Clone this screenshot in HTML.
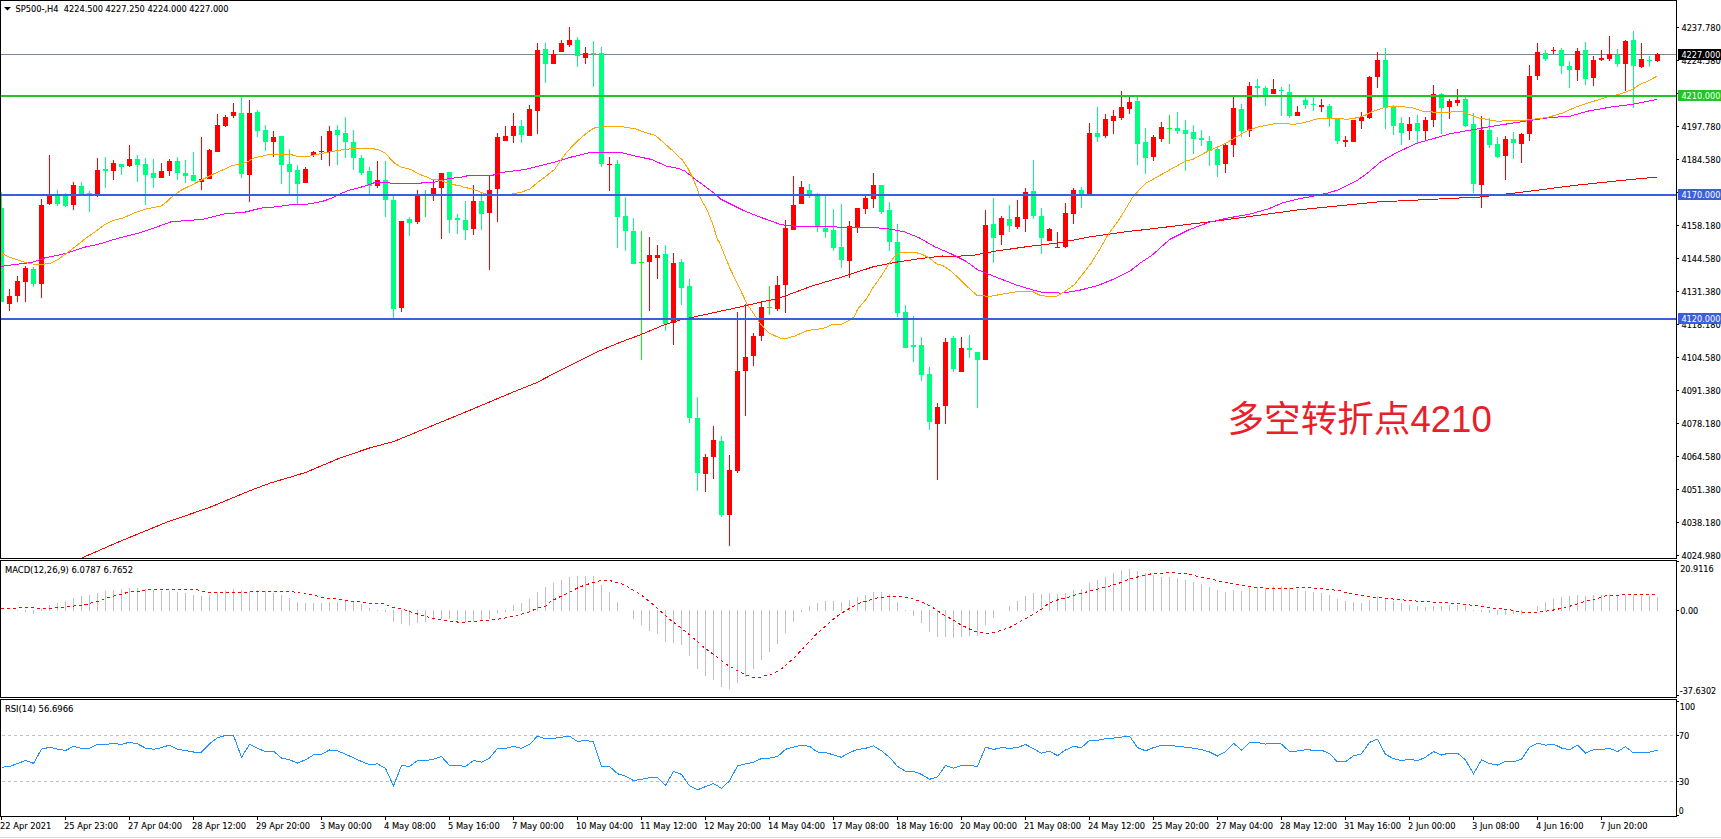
<!DOCTYPE html>
<html><head><meta charset="utf-8"><style>
html,body{margin:0;padding:0;background:#fff;width:1721px;height:839px;overflow:hidden}
svg{display:block}
.ax,.bx{font-family:"DejaVu Sans Condensed","DejaVu Sans",sans-serif;font-size:9.4px;fill:#000}
.ax{stroke:#000;stroke-width:0.1px}
.cn{font-family:"Liberation Sans","Noto Sans CJK SC",sans-serif;font-size:36.6px;fill:#e8202a}
</style></head><body>
<svg width="1721" height="839" viewBox="0 0 1721 839">
<g shape-rendering="crispEdges">
<rect x="1" y="54" width="1675" height="1" fill="#778899"/>
<rect x="1" y="192" width="1" height="110" fill="#00ff7f"/>
<rect x="1" y="208" width="3" height="94" fill="#00ff7f"/>
<rect x="9" y="289" width="1" height="22" fill="#ff0000"/>
<rect x="7" y="296" width="5" height="8" fill="#ff0000"/>
<rect x="17" y="276" width="1" height="26" fill="#ff0000"/>
<rect x="15" y="281" width="5" height="15" fill="#ff0000"/>
<rect x="25" y="266" width="1" height="36" fill="#ff0000"/>
<rect x="23" y="268" width="5" height="14" fill="#ff0000"/>
<rect x="33" y="267" width="1" height="20" fill="#00ff7f"/>
<rect x="31" y="269" width="5" height="15" fill="#00ff7f"/>
<rect x="41" y="199" width="1" height="99" fill="#ff0000"/>
<rect x="39" y="205" width="5" height="79" fill="#ff0000"/>
<rect x="49" y="155" width="1" height="50" fill="#ff0000"/>
<rect x="47" y="196" width="5" height="8" fill="#ff0000"/>
<rect x="57" y="190" width="1" height="16" fill="#00ff7f"/>
<rect x="55" y="194" width="5" height="10" fill="#00ff7f"/>
<rect x="65" y="193" width="1" height="14" fill="#00ff7f"/>
<rect x="63" y="195" width="5" height="11" fill="#00ff7f"/>
<rect x="73" y="182" width="1" height="28" fill="#ff0000"/>
<rect x="71" y="185" width="5" height="20" fill="#ff0000"/>
<rect x="81" y="182" width="1" height="12" fill="#00ff7f"/>
<rect x="79" y="186" width="5" height="8" fill="#00ff7f"/>
<rect x="89" y="191" width="1" height="21" fill="#00ff7f"/>
<rect x="87" y="193" width="5" height="1" fill="#00ff7f"/>
<rect x="97" y="158" width="1" height="39" fill="#ff0000"/>
<rect x="95" y="170" width="5" height="24" fill="#ff0000"/>
<rect x="105" y="157" width="1" height="31" fill="#00ff7f"/>
<rect x="103" y="169" width="5" height="2" fill="#00ff7f"/>
<rect x="113" y="160" width="1" height="20" fill="#ff0000"/>
<rect x="111" y="163" width="5" height="8" fill="#ff0000"/>
<rect x="121" y="164" width="1" height="11" fill="#00ff7f"/>
<rect x="119" y="164" width="5" height="3" fill="#00ff7f"/>
<rect x="129" y="145" width="1" height="22" fill="#ff0000"/>
<rect x="127" y="159" width="5" height="7" fill="#ff0000"/>
<rect x="137" y="155" width="1" height="27" fill="#00ff7f"/>
<rect x="135" y="159" width="5" height="6" fill="#00ff7f"/>
<rect x="145" y="158" width="1" height="47" fill="#00ff7f"/>
<rect x="143" y="164" width="5" height="11" fill="#00ff7f"/>
<rect x="153" y="159" width="1" height="29" fill="#00ff7f"/>
<rect x="151" y="173" width="5" height="5" fill="#00ff7f"/>
<rect x="161" y="163" width="1" height="15" fill="#ff0000"/>
<rect x="159" y="171" width="5" height="7" fill="#ff0000"/>
<rect x="169" y="159" width="1" height="17" fill="#ff0000"/>
<rect x="167" y="161" width="5" height="10" fill="#ff0000"/>
<rect x="177" y="157" width="1" height="23" fill="#00ff7f"/>
<rect x="175" y="161" width="5" height="12" fill="#00ff7f"/>
<rect x="185" y="160" width="1" height="23" fill="#00ff7f"/>
<rect x="183" y="173" width="5" height="3" fill="#00ff7f"/>
<rect x="193" y="152" width="1" height="29" fill="#00ff7f"/>
<rect x="191" y="175" width="5" height="6" fill="#00ff7f"/>
<rect x="201" y="137" width="1" height="53" fill="#ff0000"/>
<rect x="199" y="179" width="5" height="3" fill="#ff0000"/>
<rect x="209" y="149" width="1" height="30" fill="#ff0000"/>
<rect x="207" y="150" width="5" height="29" fill="#ff0000"/>
<rect x="217" y="114" width="1" height="38" fill="#ff0000"/>
<rect x="215" y="125" width="5" height="27" fill="#ff0000"/>
<rect x="225" y="115" width="1" height="12" fill="#ff0000"/>
<rect x="223" y="117" width="5" height="9" fill="#ff0000"/>
<rect x="233" y="103" width="1" height="15" fill="#ff0000"/>
<rect x="231" y="112" width="5" height="4" fill="#ff0000"/>
<rect x="241" y="96" width="1" height="82" fill="#00ff7f"/>
<rect x="239" y="113" width="5" height="61" fill="#00ff7f"/>
<rect x="249" y="100" width="1" height="102" fill="#ff0000"/>
<rect x="247" y="113" width="5" height="62" fill="#ff0000"/>
<rect x="257" y="110" width="1" height="27" fill="#00ff7f"/>
<rect x="255" y="112" width="5" height="19" fill="#00ff7f"/>
<rect x="265" y="125" width="1" height="26" fill="#00ff7f"/>
<rect x="263" y="130" width="5" height="12" fill="#00ff7f"/>
<rect x="273" y="131" width="1" height="26" fill="#ff0000"/>
<rect x="271" y="137" width="5" height="5" fill="#ff0000"/>
<rect x="281" y="136" width="1" height="48" fill="#00ff7f"/>
<rect x="279" y="136" width="5" height="29" fill="#00ff7f"/>
<rect x="289" y="149" width="1" height="45" fill="#00ff7f"/>
<rect x="287" y="164" width="5" height="8" fill="#00ff7f"/>
<rect x="297" y="165" width="1" height="39" fill="#00ff7f"/>
<rect x="295" y="170" width="5" height="14" fill="#00ff7f"/>
<rect x="305" y="167" width="1" height="16" fill="#ff0000"/>
<rect x="303" y="169" width="5" height="14" fill="#ff0000"/>
<rect x="313" y="151" width="1" height="6" fill="#ff0000"/>
<rect x="311" y="152" width="5" height="3" fill="#ff0000"/>
<rect x="321" y="136" width="1" height="24" fill="#ff0000"/>
<rect x="319" y="151" width="5" height="1" fill="#ff0000"/>
<rect x="329" y="126" width="1" height="40" fill="#ff0000"/>
<rect x="327" y="131" width="5" height="21" fill="#ff0000"/>
<rect x="337" y="125" width="1" height="40" fill="#00ff7f"/>
<rect x="335" y="130" width="5" height="5" fill="#00ff7f"/>
<rect x="345" y="117" width="1" height="41" fill="#00ff7f"/>
<rect x="343" y="133" width="5" height="9" fill="#00ff7f"/>
<rect x="353" y="130" width="1" height="40" fill="#00ff7f"/>
<rect x="351" y="142" width="5" height="16" fill="#00ff7f"/>
<rect x="361" y="155" width="1" height="20" fill="#00ff7f"/>
<rect x="359" y="158" width="5" height="15" fill="#00ff7f"/>
<rect x="369" y="167" width="1" height="27" fill="#00ff7f"/>
<rect x="367" y="171" width="5" height="15" fill="#00ff7f"/>
<rect x="377" y="161" width="1" height="27" fill="#ff0000"/>
<rect x="375" y="180" width="5" height="6" fill="#ff0000"/>
<rect x="385" y="161" width="1" height="56" fill="#00ff7f"/>
<rect x="383" y="180" width="5" height="20" fill="#00ff7f"/>
<rect x="393" y="196" width="1" height="122" fill="#00ff7f"/>
<rect x="391" y="200" width="5" height="109" fill="#00ff7f"/>
<rect x="401" y="221" width="1" height="91" fill="#ff0000"/>
<rect x="399" y="221" width="5" height="87" fill="#ff0000"/>
<rect x="409" y="217" width="1" height="19" fill="#00ff7f"/>
<rect x="407" y="219" width="5" height="4" fill="#00ff7f"/>
<rect x="417" y="190" width="1" height="34" fill="#ff0000"/>
<rect x="415" y="196" width="5" height="26" fill="#ff0000"/>
<rect x="425" y="190" width="1" height="27" fill="#00ff00"/>
<rect x="423" y="194" width="5" height="1" fill="#00ff00"/>
<rect x="433" y="180" width="1" height="21" fill="#ff0000"/>
<rect x="431" y="188" width="5" height="6" fill="#ff0000"/>
<rect x="441" y="173" width="1" height="66" fill="#ff0000"/>
<rect x="439" y="173" width="5" height="15" fill="#ff0000"/>
<rect x="449" y="172" width="1" height="61" fill="#00ff7f"/>
<rect x="447" y="172" width="5" height="48" fill="#00ff7f"/>
<rect x="457" y="214" width="1" height="20" fill="#00ff7f"/>
<rect x="455" y="218" width="5" height="2" fill="#00ff7f"/>
<rect x="465" y="201" width="1" height="39" fill="#00ff7f"/>
<rect x="463" y="220" width="5" height="10" fill="#00ff7f"/>
<rect x="473" y="185" width="1" height="50" fill="#ff0000"/>
<rect x="471" y="201" width="5" height="28" fill="#ff0000"/>
<rect x="481" y="192" width="1" height="38" fill="#00ff7f"/>
<rect x="479" y="201" width="5" height="13" fill="#00ff7f"/>
<rect x="489" y="175" width="1" height="95" fill="#ff0000"/>
<rect x="487" y="190" width="5" height="23" fill="#ff0000"/>
<rect x="497" y="133" width="1" height="89" fill="#ff0000"/>
<rect x="495" y="137" width="5" height="52" fill="#ff0000"/>
<rect x="505" y="126" width="1" height="15" fill="#ff0000"/>
<rect x="503" y="136" width="5" height="5" fill="#ff0000"/>
<rect x="513" y="113" width="1" height="30" fill="#ff0000"/>
<rect x="511" y="126" width="5" height="10" fill="#ff0000"/>
<rect x="521" y="120" width="1" height="23" fill="#00ff7f"/>
<rect x="519" y="126" width="5" height="9" fill="#00ff7f"/>
<rect x="529" y="105" width="1" height="31" fill="#ff0000"/>
<rect x="527" y="109" width="5" height="27" fill="#ff0000"/>
<rect x="537" y="43" width="1" height="91" fill="#ff0000"/>
<rect x="535" y="50" width="5" height="61" fill="#ff0000"/>
<rect x="545" y="43" width="1" height="40" fill="#00ff7f"/>
<rect x="543" y="49" width="5" height="15" fill="#00ff7f"/>
<rect x="553" y="50" width="1" height="14" fill="#ff0000"/>
<rect x="551" y="54" width="5" height="10" fill="#ff0000"/>
<rect x="561" y="40" width="1" height="12" fill="#ff0000"/>
<rect x="559" y="43" width="5" height="9" fill="#ff0000"/>
<rect x="569" y="27" width="1" height="20" fill="#ff0000"/>
<rect x="567" y="40" width="5" height="5" fill="#ff0000"/>
<rect x="577" y="37" width="1" height="30" fill="#00ff7f"/>
<rect x="575" y="40" width="5" height="16" fill="#00ff7f"/>
<rect x="585" y="47" width="1" height="17" fill="#ff0000"/>
<rect x="583" y="53" width="5" height="5" fill="#ff0000"/>
<rect x="593" y="41" width="1" height="46" fill="#00ff7f"/>
<rect x="591" y="53" width="5" height="1" fill="#00ff7f"/>
<rect x="601" y="47" width="1" height="120" fill="#00ff7f"/>
<rect x="599" y="53" width="5" height="111" fill="#00ff7f"/>
<rect x="609" y="157" width="1" height="34" fill="#ff0000"/>
<rect x="607" y="164" width="5" height="1" fill="#ff0000"/>
<rect x="617" y="160" width="1" height="88" fill="#00ff7f"/>
<rect x="615" y="164" width="5" height="53" fill="#00ff7f"/>
<rect x="625" y="197" width="1" height="54" fill="#00ff7f"/>
<rect x="623" y="216" width="5" height="15" fill="#00ff7f"/>
<rect x="633" y="218" width="1" height="46" fill="#00ff7f"/>
<rect x="631" y="231" width="5" height="33" fill="#00ff7f"/>
<rect x="641" y="231" width="1" height="129" fill="#00ff00"/>
<rect x="639" y="262" width="5" height="1" fill="#00ff00"/>
<rect x="649" y="237" width="1" height="74" fill="#ff0000"/>
<rect x="647" y="255" width="5" height="7" fill="#ff0000"/>
<rect x="657" y="245" width="1" height="34" fill="#ff0000"/>
<rect x="655" y="255" width="5" height="3" fill="#ff0000"/>
<rect x="665" y="245" width="1" height="86" fill="#00ff7f"/>
<rect x="663" y="254" width="5" height="70" fill="#00ff7f"/>
<rect x="673" y="253" width="1" height="92" fill="#ff0000"/>
<rect x="671" y="263" width="5" height="60" fill="#ff0000"/>
<rect x="681" y="259" width="1" height="46" fill="#00ff7f"/>
<rect x="679" y="262" width="5" height="26" fill="#00ff7f"/>
<rect x="689" y="279" width="1" height="144" fill="#00ff7f"/>
<rect x="687" y="286" width="5" height="132" fill="#00ff7f"/>
<rect x="697" y="397" width="1" height="94" fill="#00ff7f"/>
<rect x="695" y="418" width="5" height="55" fill="#00ff7f"/>
<rect x="705" y="454" width="1" height="38" fill="#ff0000"/>
<rect x="703" y="457" width="5" height="17" fill="#ff0000"/>
<rect x="713" y="426" width="1" height="53" fill="#ff0000"/>
<rect x="711" y="440" width="5" height="17" fill="#ff0000"/>
<rect x="721" y="436" width="1" height="81" fill="#00ff7f"/>
<rect x="719" y="441" width="5" height="74" fill="#00ff7f"/>
<rect x="729" y="455" width="1" height="91" fill="#ff0000"/>
<rect x="727" y="470" width="5" height="45" fill="#ff0000"/>
<rect x="737" y="312" width="1" height="161" fill="#ff0000"/>
<rect x="735" y="371" width="5" height="100" fill="#ff0000"/>
<rect x="745" y="304" width="1" height="112" fill="#ff0000"/>
<rect x="743" y="357" width="5" height="14" fill="#ff0000"/>
<rect x="753" y="333" width="1" height="33" fill="#ff0000"/>
<rect x="751" y="336" width="5" height="20" fill="#ff0000"/>
<rect x="761" y="301" width="1" height="40" fill="#ff0000"/>
<rect x="759" y="307" width="5" height="29" fill="#ff0000"/>
<rect x="769" y="286" width="1" height="29" fill="#00ff00"/>
<rect x="767" y="307" width="5" height="1" fill="#00ff00"/>
<rect x="777" y="276" width="1" height="35" fill="#ff0000"/>
<rect x="775" y="285" width="5" height="24" fill="#ff0000"/>
<rect x="785" y="220" width="1" height="93" fill="#ff0000"/>
<rect x="783" y="228" width="5" height="57" fill="#ff0000"/>
<rect x="793" y="176" width="1" height="54" fill="#ff0000"/>
<rect x="791" y="205" width="5" height="25" fill="#ff0000"/>
<rect x="801" y="181" width="1" height="23" fill="#ff0000"/>
<rect x="799" y="187" width="5" height="17" fill="#ff0000"/>
<rect x="809" y="184" width="1" height="14" fill="#00ff7f"/>
<rect x="807" y="190" width="5" height="4" fill="#00ff7f"/>
<rect x="817" y="193" width="1" height="39" fill="#00ff7f"/>
<rect x="815" y="196" width="5" height="31" fill="#00ff7f"/>
<rect x="825" y="196" width="1" height="42" fill="#00ff7f"/>
<rect x="823" y="228" width="5" height="4" fill="#00ff7f"/>
<rect x="833" y="209" width="1" height="42" fill="#00ff7f"/>
<rect x="831" y="230" width="5" height="18" fill="#00ff7f"/>
<rect x="841" y="204" width="1" height="64" fill="#00ff7f"/>
<rect x="839" y="247" width="5" height="13" fill="#00ff7f"/>
<rect x="849" y="221" width="1" height="57" fill="#ff0000"/>
<rect x="847" y="226" width="5" height="35" fill="#ff0000"/>
<rect x="857" y="208" width="1" height="25" fill="#ff0000"/>
<rect x="855" y="208" width="5" height="20" fill="#ff0000"/>
<rect x="865" y="196" width="1" height="18" fill="#ff0000"/>
<rect x="863" y="198" width="5" height="11" fill="#ff0000"/>
<rect x="873" y="173" width="1" height="35" fill="#ff0000"/>
<rect x="871" y="185" width="5" height="14" fill="#ff0000"/>
<rect x="881" y="185" width="1" height="29" fill="#00ff7f"/>
<rect x="879" y="185" width="5" height="27" fill="#00ff7f"/>
<rect x="889" y="202" width="1" height="49" fill="#00ff7f"/>
<rect x="887" y="210" width="5" height="32" fill="#00ff7f"/>
<rect x="897" y="224" width="1" height="93" fill="#00ff7f"/>
<rect x="895" y="242" width="5" height="71" fill="#00ff7f"/>
<rect x="905" y="305" width="1" height="43" fill="#00ff7f"/>
<rect x="903" y="312" width="5" height="36" fill="#00ff7f"/>
<rect x="913" y="316" width="1" height="46" fill="#00ff7f"/>
<rect x="911" y="345" width="5" height="2" fill="#00ff7f"/>
<rect x="921" y="337" width="1" height="44" fill="#00ff7f"/>
<rect x="919" y="345" width="5" height="30" fill="#00ff7f"/>
<rect x="929" y="367" width="1" height="63" fill="#00ff7f"/>
<rect x="927" y="374" width="5" height="48" fill="#00ff7f"/>
<rect x="937" y="403" width="1" height="77" fill="#ff0000"/>
<rect x="935" y="407" width="5" height="17" fill="#ff0000"/>
<rect x="945" y="338" width="1" height="86" fill="#ff0000"/>
<rect x="943" y="342" width="5" height="64" fill="#ff0000"/>
<rect x="953" y="336" width="1" height="36" fill="#00ff7f"/>
<rect x="951" y="338" width="5" height="31" fill="#00ff7f"/>
<rect x="961" y="337" width="1" height="35" fill="#ff0000"/>
<rect x="959" y="348" width="5" height="24" fill="#ff0000"/>
<rect x="969" y="335" width="1" height="23" fill="#00ff7f"/>
<rect x="967" y="348" width="5" height="2" fill="#00ff7f"/>
<rect x="977" y="352" width="1" height="56" fill="#00ff7f"/>
<rect x="975" y="352" width="5" height="8" fill="#00ff7f"/>
<rect x="985" y="210" width="1" height="150" fill="#ff0000"/>
<rect x="983" y="225" width="5" height="135" fill="#ff0000"/>
<rect x="993" y="198" width="1" height="65" fill="#00ff7f"/>
<rect x="991" y="224" width="5" height="14" fill="#00ff7f"/>
<rect x="1001" y="216" width="1" height="29" fill="#ff0000"/>
<rect x="999" y="218" width="5" height="17" fill="#ff0000"/>
<rect x="1009" y="205" width="1" height="27" fill="#00ff7f"/>
<rect x="1007" y="219" width="5" height="7" fill="#00ff7f"/>
<rect x="1017" y="200" width="1" height="29" fill="#ff0000"/>
<rect x="1015" y="217" width="5" height="10" fill="#ff0000"/>
<rect x="1025" y="188" width="1" height="44" fill="#ff0000"/>
<rect x="1023" y="192" width="5" height="27" fill="#ff0000"/>
<rect x="1033" y="160" width="1" height="59" fill="#00ff7f"/>
<rect x="1031" y="191" width="5" height="25" fill="#00ff7f"/>
<rect x="1041" y="208" width="1" height="46" fill="#00ff7f"/>
<rect x="1039" y="216" width="5" height="22" fill="#00ff7f"/>
<rect x="1049" y="228" width="1" height="13" fill="#ff0000"/>
<rect x="1047" y="229" width="5" height="12" fill="#ff0000"/>
<rect x="1057" y="232" width="1" height="16" fill="#ff0000"/>
<rect x="1055" y="247" width="5" height="1" fill="#ff0000"/>
<rect x="1065" y="203" width="1" height="45" fill="#ff0000"/>
<rect x="1063" y="213" width="5" height="34" fill="#ff0000"/>
<rect x="1073" y="188" width="1" height="36" fill="#ff0000"/>
<rect x="1071" y="190" width="5" height="24" fill="#ff0000"/>
<rect x="1081" y="187" width="1" height="21" fill="#00ff7f"/>
<rect x="1079" y="190" width="5" height="4" fill="#00ff7f"/>
<rect x="1089" y="123" width="1" height="71" fill="#ff0000"/>
<rect x="1087" y="133" width="5" height="61" fill="#ff0000"/>
<rect x="1097" y="107" width="1" height="35" fill="#00ff7f"/>
<rect x="1095" y="133" width="5" height="4" fill="#00ff7f"/>
<rect x="1105" y="114" width="1" height="24" fill="#ff0000"/>
<rect x="1103" y="119" width="5" height="17" fill="#ff0000"/>
<rect x="1113" y="110" width="1" height="24" fill="#ff0000"/>
<rect x="1111" y="116" width="5" height="5" fill="#ff0000"/>
<rect x="1121" y="91" width="1" height="29" fill="#ff0000"/>
<rect x="1119" y="107" width="5" height="11" fill="#ff0000"/>
<rect x="1129" y="97" width="1" height="17" fill="#ff0000"/>
<rect x="1127" y="102" width="5" height="7" fill="#ff0000"/>
<rect x="1137" y="97" width="1" height="68" fill="#00ff7f"/>
<rect x="1135" y="101" width="5" height="43" fill="#00ff7f"/>
<rect x="1145" y="128" width="1" height="46" fill="#00ff7f"/>
<rect x="1143" y="142" width="5" height="16" fill="#00ff7f"/>
<rect x="1153" y="135" width="1" height="26" fill="#ff0000"/>
<rect x="1151" y="137" width="5" height="20" fill="#ff0000"/>
<rect x="1161" y="122" width="1" height="20" fill="#ff0000"/>
<rect x="1159" y="127" width="5" height="12" fill="#ff0000"/>
<rect x="1169" y="115" width="1" height="29" fill="#00ff00"/>
<rect x="1167" y="128" width="5" height="1" fill="#00ff00"/>
<rect x="1177" y="112" width="1" height="22" fill="#00ff7f"/>
<rect x="1175" y="128" width="5" height="3" fill="#00ff7f"/>
<rect x="1185" y="120" width="1" height="51" fill="#00ff7f"/>
<rect x="1183" y="130" width="5" height="4" fill="#00ff7f"/>
<rect x="1193" y="125" width="1" height="29" fill="#00ff7f"/>
<rect x="1191" y="132" width="5" height="7" fill="#00ff7f"/>
<rect x="1201" y="130" width="1" height="16" fill="#00ff7f"/>
<rect x="1199" y="138" width="5" height="2" fill="#00ff7f"/>
<rect x="1209" y="136" width="1" height="30" fill="#00ff7f"/>
<rect x="1207" y="141" width="5" height="10" fill="#00ff7f"/>
<rect x="1217" y="147" width="1" height="30" fill="#00ff7f"/>
<rect x="1215" y="149" width="5" height="16" fill="#00ff7f"/>
<rect x="1225" y="144" width="1" height="29" fill="#ff0000"/>
<rect x="1223" y="145" width="5" height="19" fill="#ff0000"/>
<rect x="1233" y="97" width="1" height="60" fill="#ff0000"/>
<rect x="1231" y="108" width="5" height="37" fill="#ff0000"/>
<rect x="1241" y="104" width="1" height="33" fill="#00ff7f"/>
<rect x="1239" y="109" width="5" height="22" fill="#00ff7f"/>
<rect x="1249" y="82" width="1" height="55" fill="#ff0000"/>
<rect x="1247" y="86" width="5" height="45" fill="#ff0000"/>
<rect x="1257" y="79" width="1" height="19" fill="#00ff7f"/>
<rect x="1255" y="86" width="5" height="2" fill="#00ff7f"/>
<rect x="1265" y="86" width="1" height="20" fill="#00ff7f"/>
<rect x="1263" y="88" width="5" height="7" fill="#00ff7f"/>
<rect x="1273" y="79" width="1" height="15" fill="#ff0000"/>
<rect x="1271" y="89" width="5" height="5" fill="#ff0000"/>
<rect x="1281" y="87" width="1" height="29" fill="#00ff7f"/>
<rect x="1279" y="90" width="5" height="1" fill="#00ff7f"/>
<rect x="1289" y="84" width="1" height="34" fill="#00ff7f"/>
<rect x="1287" y="92" width="5" height="24" fill="#00ff7f"/>
<rect x="1297" y="106" width="1" height="10" fill="#ff0000"/>
<rect x="1295" y="112" width="5" height="4" fill="#ff0000"/>
<rect x="1305" y="97" width="1" height="12" fill="#00ff7f"/>
<rect x="1303" y="100" width="5" height="5" fill="#00ff7f"/>
<rect x="1313" y="97" width="1" height="14" fill="#00ff7f"/>
<rect x="1311" y="104" width="5" height="1" fill="#00ff7f"/>
<rect x="1321" y="99" width="1" height="13" fill="#ff0000"/>
<rect x="1319" y="105" width="5" height="2" fill="#ff0000"/>
<rect x="1329" y="104" width="1" height="23" fill="#00ff7f"/>
<rect x="1327" y="106" width="5" height="12" fill="#00ff7f"/>
<rect x="1337" y="118" width="1" height="26" fill="#00ff7f"/>
<rect x="1335" y="119" width="5" height="22" fill="#00ff7f"/>
<rect x="1345" y="136" width="1" height="11" fill="#ff0000"/>
<rect x="1343" y="140" width="5" height="2" fill="#ff0000"/>
<rect x="1353" y="120" width="1" height="22" fill="#ff0000"/>
<rect x="1351" y="120" width="5" height="22" fill="#ff0000"/>
<rect x="1361" y="112" width="1" height="17" fill="#ff0000"/>
<rect x="1359" y="117" width="5" height="4" fill="#ff0000"/>
<rect x="1369" y="76" width="1" height="43" fill="#ff0000"/>
<rect x="1367" y="77" width="5" height="41" fill="#ff0000"/>
<rect x="1377" y="52" width="1" height="36" fill="#ff0000"/>
<rect x="1375" y="60" width="5" height="17" fill="#ff0000"/>
<rect x="1385" y="48" width="1" height="81" fill="#00ff7f"/>
<rect x="1383" y="60" width="5" height="48" fill="#00ff7f"/>
<rect x="1393" y="105" width="1" height="30" fill="#00ff7f"/>
<rect x="1391" y="106" width="5" height="20" fill="#00ff7f"/>
<rect x="1401" y="117" width="1" height="28" fill="#00ff7f"/>
<rect x="1399" y="123" width="5" height="10" fill="#00ff7f"/>
<rect x="1409" y="117" width="1" height="23" fill="#ff0000"/>
<rect x="1407" y="124" width="5" height="7" fill="#ff0000"/>
<rect x="1417" y="115" width="1" height="28" fill="#00ff7f"/>
<rect x="1415" y="123" width="5" height="8" fill="#00ff7f"/>
<rect x="1425" y="117" width="1" height="23" fill="#ff0000"/>
<rect x="1423" y="120" width="5" height="11" fill="#ff0000"/>
<rect x="1433" y="85" width="1" height="42" fill="#ff0000"/>
<rect x="1431" y="94" width="5" height="26" fill="#ff0000"/>
<rect x="1441" y="93" width="1" height="41" fill="#00ff7f"/>
<rect x="1439" y="94" width="5" height="14" fill="#00ff7f"/>
<rect x="1449" y="99" width="1" height="20" fill="#ff0000"/>
<rect x="1447" y="101" width="5" height="6" fill="#ff0000"/>
<rect x="1457" y="89" width="1" height="17" fill="#ff0000"/>
<rect x="1455" y="100" width="5" height="3" fill="#ff0000"/>
<rect x="1465" y="97" width="1" height="30" fill="#00ff7f"/>
<rect x="1463" y="99" width="5" height="27" fill="#00ff7f"/>
<rect x="1473" y="113" width="1" height="80" fill="#00ff7f"/>
<rect x="1471" y="124" width="5" height="60" fill="#00ff7f"/>
<rect x="1481" y="116" width="1" height="92" fill="#ff0000"/>
<rect x="1479" y="130" width="5" height="55" fill="#ff0000"/>
<rect x="1489" y="118" width="1" height="30" fill="#00ff7f"/>
<rect x="1487" y="130" width="5" height="15" fill="#00ff7f"/>
<rect x="1497" y="137" width="1" height="21" fill="#00ff7f"/>
<rect x="1495" y="144" width="5" height="13" fill="#00ff7f"/>
<rect x="1505" y="136" width="1" height="44" fill="#ff0000"/>
<rect x="1503" y="139" width="5" height="17" fill="#ff0000"/>
<rect x="1513" y="132" width="1" height="27" fill="#00ff7f"/>
<rect x="1511" y="139" width="5" height="4" fill="#00ff7f"/>
<rect x="1521" y="133" width="1" height="30" fill="#ff0000"/>
<rect x="1519" y="134" width="5" height="10" fill="#ff0000"/>
<rect x="1529" y="65" width="1" height="76" fill="#ff0000"/>
<rect x="1527" y="76" width="5" height="58" fill="#ff0000"/>
<rect x="1537" y="43" width="1" height="37" fill="#ff0000"/>
<rect x="1535" y="52" width="5" height="24" fill="#ff0000"/>
<rect x="1545" y="50" width="1" height="11" fill="#00ff7f"/>
<rect x="1543" y="53" width="5" height="6" fill="#00ff7f"/>
<rect x="1553" y="47" width="1" height="7" fill="#ff0000"/>
<rect x="1551" y="50" width="5" height="1" fill="#ff0000"/>
<rect x="1561" y="48" width="1" height="26" fill="#00ff7f"/>
<rect x="1559" y="50" width="5" height="16" fill="#00ff7f"/>
<rect x="1569" y="61" width="1" height="27" fill="#00ff7f"/>
<rect x="1567" y="66" width="5" height="4" fill="#00ff7f"/>
<rect x="1577" y="48" width="1" height="33" fill="#ff0000"/>
<rect x="1575" y="51" width="5" height="19" fill="#ff0000"/>
<rect x="1585" y="42" width="1" height="43" fill="#00ff7f"/>
<rect x="1583" y="50" width="5" height="29" fill="#00ff7f"/>
<rect x="1593" y="56" width="1" height="30" fill="#ff0000"/>
<rect x="1591" y="60" width="5" height="18" fill="#ff0000"/>
<rect x="1601" y="50" width="1" height="11" fill="#ff0000"/>
<rect x="1599" y="58" width="5" height="2" fill="#ff0000"/>
<rect x="1609" y="36" width="1" height="25" fill="#ff0000"/>
<rect x="1607" y="54" width="5" height="5" fill="#ff0000"/>
<rect x="1617" y="49" width="1" height="18" fill="#00ff7f"/>
<rect x="1615" y="55" width="5" height="9" fill="#00ff7f"/>
<rect x="1625" y="40" width="1" height="51" fill="#ff0000"/>
<rect x="1623" y="41" width="5" height="23" fill="#ff0000"/>
<rect x="1633" y="31" width="1" height="77" fill="#00ff7f"/>
<rect x="1631" y="40" width="5" height="26" fill="#00ff7f"/>
<rect x="1641" y="43" width="1" height="25" fill="#ff0000"/>
<rect x="1639" y="59" width="5" height="8" fill="#ff0000"/>
<rect x="1649" y="56" width="1" height="11" fill="#00ff7f"/>
<rect x="1647" y="60" width="5" height="1" fill="#00ff7f"/>
<rect x="1657" y="53" width="1" height="9" fill="#ff0000"/>
<rect x="1655" y="54" width="5" height="7" fill="#ff0000"/>
<svg x="1" y="1" width="1675" height="557" overflow="hidden"><g transform="translate(-1,-1)">
<polyline points="78.0,559.8 83.1,557.4 121.5,540.7 168.0,521.7 208.7,507.8 249.4,490.9 270.0,483.1 289.8,477.3 306.0,472.3 339.7,458.1 368.8,448.2 394.3,441.3 426.9,427.9 470.0,410.2 512.7,392.2 536.5,382.7 566.3,367.2 596.1,352.3 620.0,342.4 641.4,334.4 665.0,324.5 680.0,320.0 733.5,308.4 780.0,297.9 811.0,286.3 842.0,277.0 872.9,266.9 896.2,262.2 919.4,258.7 942.6,256.0 950.0,256.4 971.7,255.6 996.5,251.0 1027.4,246.6 1058.4,242.9 1089.4,237.0 1130.0,231.2 1140.0,230.2 1219.0,220.7 1298.0,209.9 1377.0,202.0 1480.0,197.0 1517.0,192.8 1575.6,185.3 1627.6,179.8 1657.0,177.1" fill="none" stroke="#ff0000" stroke-width="1"/>
<polyline points="1.0,266.4 10.7,265.1 32.2,262.4 45.1,257.8 64.4,253.8 85.8,246.9 98.7,244.2 118.0,238.3 139.5,232.9 155.5,227.5 171.6,221.6 180.0,221.1 202.2,219.4 223.6,214.0 245.1,212.1 261.2,208.1 277.3,206.7 293.4,204.4 306.2,204.4 322.3,201.4 330.9,198.5 337.3,195.2 340.0,193.9 348.3,190.5 356.7,188.4 367.5,185.3 375.1,182.4 389.2,182.4 390.1,183.4 421.0,183.4 421.8,182.4 434.3,182.4 436.0,181.3 443.5,180.1 445.2,179.2 452.7,178.2 460.0,177.4 469.8,175.3 492.5,175.3 503.2,172.2 525.8,169.4 541.3,165.4 556.8,161.5 571.1,157.1 591.4,152.3 605.0,152.3 620.0,152.1 635.5,156.2 651.0,159.3 666.5,166.1 678.9,168.6 685.1,171.2 692.8,177.4 702.1,184.3 714.5,193.6 720.7,199.1 731.5,204.5 743.9,210.7 759.4,216.9 774.9,222.3 780.0,224.6 795.5,226.2 842.0,227.1 876.0,227.7 891.5,229.3 903.9,231.7 919.4,237.9 934.9,246.8 950.0,253.3 965.5,261.0 977.9,269.9 996.5,277.3 1016.6,285.1 1032.1,289.7 1042.9,292.5 1061.5,293.1 1078.6,290.5 1097.1,285.8 1112.6,279.6 1130.0,271.1 1140.0,263.2 1151.9,255.3 1169.6,239.5 1189.4,229.6 1209.1,222.3 1228.9,217.8 1248.7,214.4 1268.4,208.9 1282.2,203.0 1298.0,199.0 1313.8,196.1 1327.7,193.1 1337.5,190.1 1357.3,180.3 1367.2,173.3 1381.0,161.5 1396.8,152.6 1416.6,143.3 1436.3,137.8 1450.0,133.7 1475.0,129.3 1500.0,125.0 1525.0,121.2 1550.0,117.5 1570.0,116.2 1587.4,111.2 1612.4,106.8 1632.4,104.3 1656.7,99.4" fill="none" stroke="#ff00ff" stroke-width="1"/>
<polyline points="1.0,253.3 10.7,257.6 21.5,261.3 32.2,264.0 42.9,264.2 50.4,263.5 57.9,259.7 66.5,253.3 75.1,246.8 85.8,238.3 96.5,230.8 105.1,224.3 112.6,220.6 123.4,217.9 134.1,213.1 144.8,209.3 160.9,206.1 167.3,201.3 170.0,198.5 180.7,190.4 191.5,185.1 200.0,180.8 212.9,174.3 223.6,169.5 232.2,165.5 240.8,164.1 247.2,162.0 253.7,158.0 261.2,156.3 270.8,154.3 290.2,154.3 296.6,156.3 308.4,156.3 313.7,155.0 325.6,152.7 336.3,150.7 340.0,150.5 341.7,149.4 348.3,149.4 350.0,148.4 373.4,148.4 375.1,149.4 378.4,149.6 384.2,152.5 389.2,157.5 394.3,163.0 400.1,166.7 406.8,168.4 411.0,169.6 419.3,174.2 427.6,177.2 432.7,179.7 437.7,179.7 443.5,181.3 448.5,183.4 456.0,185.1 460.0,185.5 463.8,187.2 473.4,189.3 481.7,192.5 487.7,194.5 509.1,194.5 521.1,192.2 529.4,189.3 538.9,181.5 549.7,173.2 554.4,169.6 559.2,162.4 565.2,154.1 571.1,147.5 579.5,139.2 587.8,132.1 593.8,128.1 604.5,126.7 620.0,126.3 635.5,128.9 643.2,131.7 655.6,135.6 661.8,141.0 669.6,148.0 682.0,159.6 688.2,168.9 692.8,178.2 697.4,189.0 700.5,198.3 706.7,209.1 712.9,224.6 717.6,240.0 718.4,240.0 730.0,268.4 746.8,303.4 760.1,323.4 768.4,332.6 780.0,338.1 787.7,338.1 795.5,335.8 807.9,330.4 820.3,328.8 826.5,327.3 832.7,324.2 842.0,324.2 849.7,320.3 854.4,316.5 857.4,309.5 866.7,298.6 872.9,287.8 880.7,277.0 888.4,264.6 896.2,254.5 902.4,252.2 914.8,252.2 922.5,254.5 928.7,257.6 936.4,263.8 942.6,265.3 950.0,270.3 956.2,275.8 965.5,285.1 977.1,295.4 990.3,296.4 1002.7,294.0 1015.1,292.0 1025.9,291.3 1033.6,292.0 1039.8,295.1 1046.0,296.2 1056.9,296.2 1064.6,291.6 1073.9,285.1 1083.2,273.4 1091.0,263.4 1098.7,251.0 1108.0,234.7 1118.8,220.0 1123.7,212.2 1133.0,196.7 1140.0,189.1 1145.9,183.2 1163.7,173.3 1185.4,161.1 1193.3,159.1 1209.1,150.6 1225.0,143.7 1234.8,137.8 1248.7,129.9 1258.5,126.9 1278.3,123.0 1280.0,123.2 1294.3,124.4 1303.8,122.6 1319.3,118.4 1342.0,118.6 1346.8,119.4 1358.7,117.5 1363.4,116.0 1373.0,111.3 1383.7,107.7 1389.7,106.3 1398.0,106.5 1411.1,107.4 1423.0,111.3 1435.0,112.2 1449.3,112.2 1456.4,111.3 1461.7,111.4 1478.0,117.9 1497.5,121.2 1527.5,120.0 1547.5,117.5 1562.4,113.1 1574.9,107.5 1587.4,103.1 1599.9,99.4 1607.4,96.9 1618.6,94.4 1624.9,92.3 1632.4,89.4 1639.9,84.4 1647.4,81.3 1656.8,76.3" fill="none" stroke="#ffa500" stroke-width="1"/>
</g></svg>
<rect x="1" y="95" width="1675" height="2" fill="#22c522"/>
<rect x="1" y="194" width="1675" height="2" fill="#3a5fdc"/>
<rect x="1" y="318" width="1675" height="2" fill="#3a5fdc"/>
<rect x="17" y="610" width="1" height="1" fill="#c0c0c0"/>
<rect x="25" y="610" width="1" height="2" fill="#c0c0c0"/>
<rect x="33" y="610" width="1" height="4" fill="#c0c0c0"/>
<rect x="41" y="609" width="1" height="2" fill="#c0c0c0"/>
<rect x="49" y="605" width="1" height="6" fill="#c0c0c0"/>
<rect x="57" y="603" width="1" height="8" fill="#c0c0c0"/>
<rect x="65" y="601" width="1" height="10" fill="#c0c0c0"/>
<rect x="73" y="598" width="1" height="13" fill="#c0c0c0"/>
<rect x="81" y="596" width="1" height="15" fill="#c0c0c0"/>
<rect x="89" y="595" width="1" height="16" fill="#c0c0c0"/>
<rect x="97" y="593" width="1" height="18" fill="#c0c0c0"/>
<rect x="105" y="591" width="1" height="20" fill="#c0c0c0"/>
<rect x="113" y="590" width="1" height="21" fill="#c0c0c0"/>
<rect x="121" y="589" width="1" height="22" fill="#c0c0c0"/>
<rect x="129" y="588" width="1" height="23" fill="#c0c0c0"/>
<rect x="137" y="588" width="1" height="23" fill="#c0c0c0"/>
<rect x="145" y="589" width="1" height="22" fill="#c0c0c0"/>
<rect x="153" y="590" width="1" height="21" fill="#c0c0c0"/>
<rect x="161" y="591" width="1" height="20" fill="#c0c0c0"/>
<rect x="169" y="591" width="1" height="20" fill="#c0c0c0"/>
<rect x="177" y="592" width="1" height="19" fill="#c0c0c0"/>
<rect x="185" y="593" width="1" height="18" fill="#c0c0c0"/>
<rect x="193" y="595" width="1" height="16" fill="#c0c0c0"/>
<rect x="201" y="596" width="1" height="15" fill="#c0c0c0"/>
<rect x="209" y="595" width="1" height="16" fill="#c0c0c0"/>
<rect x="217" y="592" width="1" height="19" fill="#c0c0c0"/>
<rect x="225" y="591" width="1" height="20" fill="#c0c0c0"/>
<rect x="233" y="589" width="1" height="22" fill="#c0c0c0"/>
<rect x="241" y="590" width="1" height="21" fill="#c0c0c0"/>
<rect x="249" y="592" width="1" height="19" fill="#c0c0c0"/>
<rect x="257" y="590" width="1" height="21" fill="#c0c0c0"/>
<rect x="265" y="591" width="1" height="20" fill="#c0c0c0"/>
<rect x="273" y="593" width="1" height="18" fill="#c0c0c0"/>
<rect x="281" y="595" width="1" height="16" fill="#c0c0c0"/>
<rect x="289" y="598" width="1" height="13" fill="#c0c0c0"/>
<rect x="297" y="602" width="1" height="9" fill="#c0c0c0"/>
<rect x="305" y="603" width="1" height="8" fill="#c0c0c0"/>
<rect x="313" y="603" width="1" height="8" fill="#c0c0c0"/>
<rect x="321" y="603" width="1" height="8" fill="#c0c0c0"/>
<rect x="329" y="602" width="1" height="9" fill="#c0c0c0"/>
<rect x="337" y="602" width="1" height="9" fill="#c0c0c0"/>
<rect x="345" y="601" width="1" height="10" fill="#c0c0c0"/>
<rect x="353" y="602" width="1" height="9" fill="#c0c0c0"/>
<rect x="361" y="604" width="1" height="7" fill="#c0c0c0"/>
<rect x="369" y="608" width="1" height="3" fill="#c0c0c0"/>
<rect x="377" y="610" width="1" height="1" fill="#c0c0c0"/>
<rect x="385" y="610" width="1" height="2" fill="#c0c0c0"/>
<rect x="393" y="610" width="1" height="12" fill="#c0c0c0"/>
<rect x="401" y="610" width="1" height="14" fill="#c0c0c0"/>
<rect x="409" y="610" width="1" height="15" fill="#c0c0c0"/>
<rect x="417" y="610" width="1" height="13" fill="#c0c0c0"/>
<rect x="425" y="610" width="1" height="12" fill="#c0c0c0"/>
<rect x="433" y="610" width="1" height="10" fill="#c0c0c0"/>
<rect x="441" y="610" width="1" height="9" fill="#c0c0c0"/>
<rect x="449" y="610" width="1" height="9" fill="#c0c0c0"/>
<rect x="457" y="610" width="1" height="10" fill="#c0c0c0"/>
<rect x="465" y="610" width="1" height="12" fill="#c0c0c0"/>
<rect x="473" y="610" width="1" height="11" fill="#c0c0c0"/>
<rect x="481" y="610" width="1" height="10" fill="#c0c0c0"/>
<rect x="489" y="610" width="1" height="9" fill="#c0c0c0"/>
<rect x="497" y="610" width="1" height="3" fill="#c0c0c0"/>
<rect x="505" y="610" width="1" height="2" fill="#c0c0c0"/>
<rect x="513" y="605" width="1" height="6" fill="#c0c0c0"/>
<rect x="521" y="603" width="1" height="8" fill="#c0c0c0"/>
<rect x="529" y="599" width="1" height="12" fill="#c0c0c0"/>
<rect x="537" y="592" width="1" height="19" fill="#c0c0c0"/>
<rect x="545" y="587" width="1" height="24" fill="#c0c0c0"/>
<rect x="553" y="583" width="1" height="28" fill="#c0c0c0"/>
<rect x="561" y="580" width="1" height="31" fill="#c0c0c0"/>
<rect x="569" y="577" width="1" height="34" fill="#c0c0c0"/>
<rect x="577" y="576" width="1" height="35" fill="#c0c0c0"/>
<rect x="585" y="576" width="1" height="35" fill="#c0c0c0"/>
<rect x="593" y="576" width="1" height="35" fill="#c0c0c0"/>
<rect x="601" y="585" width="1" height="26" fill="#c0c0c0"/>
<rect x="609" y="592" width="1" height="19" fill="#c0c0c0"/>
<rect x="617" y="602" width="1" height="9" fill="#c0c0c0"/>
<rect x="633" y="610" width="1" height="9" fill="#c0c0c0"/>
<rect x="641" y="610" width="1" height="15" fill="#c0c0c0"/>
<rect x="649" y="610" width="1" height="21" fill="#c0c0c0"/>
<rect x="657" y="610" width="1" height="24" fill="#c0c0c0"/>
<rect x="665" y="610" width="1" height="32" fill="#c0c0c0"/>
<rect x="673" y="610" width="1" height="33" fill="#c0c0c0"/>
<rect x="681" y="610" width="1" height="35" fill="#c0c0c0"/>
<rect x="689" y="610" width="1" height="46" fill="#c0c0c0"/>
<rect x="697" y="610" width="1" height="59" fill="#c0c0c0"/>
<rect x="705" y="610" width="1" height="66" fill="#c0c0c0"/>
<rect x="713" y="610" width="1" height="70" fill="#c0c0c0"/>
<rect x="721" y="610" width="1" height="77" fill="#c0c0c0"/>
<rect x="729" y="610" width="1" height="79" fill="#c0c0c0"/>
<rect x="737" y="610" width="1" height="73" fill="#c0c0c0"/>
<rect x="745" y="610" width="1" height="67" fill="#c0c0c0"/>
<rect x="753" y="610" width="1" height="59" fill="#c0c0c0"/>
<rect x="761" y="610" width="1" height="50" fill="#c0c0c0"/>
<rect x="769" y="610" width="1" height="42" fill="#c0c0c0"/>
<rect x="777" y="610" width="1" height="34" fill="#c0c0c0"/>
<rect x="785" y="610" width="1" height="23" fill="#c0c0c0"/>
<rect x="793" y="610" width="1" height="12" fill="#c0c0c0"/>
<rect x="801" y="610" width="1" height="2" fill="#c0c0c0"/>
<rect x="809" y="606" width="1" height="5" fill="#c0c0c0"/>
<rect x="817" y="603" width="1" height="8" fill="#c0c0c0"/>
<rect x="825" y="601" width="1" height="10" fill="#c0c0c0"/>
<rect x="833" y="601" width="1" height="10" fill="#c0c0c0"/>
<rect x="841" y="602" width="1" height="9" fill="#c0c0c0"/>
<rect x="849" y="600" width="1" height="11" fill="#c0c0c0"/>
<rect x="857" y="597" width="1" height="14" fill="#c0c0c0"/>
<rect x="865" y="595" width="1" height="16" fill="#c0c0c0"/>
<rect x="873" y="592" width="1" height="19" fill="#c0c0c0"/>
<rect x="881" y="592" width="1" height="19" fill="#c0c0c0"/>
<rect x="889" y="594" width="1" height="17" fill="#c0c0c0"/>
<rect x="897" y="602" width="1" height="9" fill="#c0c0c0"/>
<rect x="905" y="610" width="1" height="1" fill="#c0c0c0"/>
<rect x="913" y="610" width="1" height="6" fill="#c0c0c0"/>
<rect x="921" y="610" width="1" height="13" fill="#c0c0c0"/>
<rect x="929" y="610" width="1" height="22" fill="#c0c0c0"/>
<rect x="937" y="610" width="1" height="27" fill="#c0c0c0"/>
<rect x="945" y="610" width="1" height="27" fill="#c0c0c0"/>
<rect x="953" y="610" width="1" height="28" fill="#c0c0c0"/>
<rect x="961" y="610" width="1" height="27" fill="#c0c0c0"/>
<rect x="969" y="610" width="1" height="26" fill="#c0c0c0"/>
<rect x="977" y="610" width="1" height="26" fill="#c0c0c0"/>
<rect x="985" y="610" width="1" height="15" fill="#c0c0c0"/>
<rect x="993" y="610" width="1" height="8" fill="#c0c0c0"/>
<rect x="1009" y="606" width="1" height="5" fill="#c0c0c0"/>
<rect x="1017" y="601" width="1" height="10" fill="#c0c0c0"/>
<rect x="1025" y="596" width="1" height="15" fill="#c0c0c0"/>
<rect x="1033" y="593" width="1" height="18" fill="#c0c0c0"/>
<rect x="1041" y="594" width="1" height="17" fill="#c0c0c0"/>
<rect x="1049" y="593" width="1" height="18" fill="#c0c0c0"/>
<rect x="1057" y="594" width="1" height="17" fill="#c0c0c0"/>
<rect x="1065" y="593" width="1" height="18" fill="#c0c0c0"/>
<rect x="1073" y="590" width="1" height="21" fill="#c0c0c0"/>
<rect x="1081" y="589" width="1" height="22" fill="#c0c0c0"/>
<rect x="1089" y="583" width="1" height="28" fill="#c0c0c0"/>
<rect x="1097" y="580" width="1" height="31" fill="#c0c0c0"/>
<rect x="1105" y="577" width="1" height="34" fill="#c0c0c0"/>
<rect x="1113" y="573" width="1" height="38" fill="#c0c0c0"/>
<rect x="1121" y="570" width="1" height="41" fill="#c0c0c0"/>
<rect x="1129" y="569" width="1" height="42" fill="#c0c0c0"/>
<rect x="1137" y="571" width="1" height="40" fill="#c0c0c0"/>
<rect x="1145" y="573" width="1" height="38" fill="#c0c0c0"/>
<rect x="1153" y="575" width="1" height="36" fill="#c0c0c0"/>
<rect x="1161" y="577" width="1" height="34" fill="#c0c0c0"/>
<rect x="1169" y="577" width="1" height="34" fill="#c0c0c0"/>
<rect x="1177" y="578" width="1" height="33" fill="#c0c0c0"/>
<rect x="1185" y="580" width="1" height="31" fill="#c0c0c0"/>
<rect x="1193" y="582" width="1" height="29" fill="#c0c0c0"/>
<rect x="1201" y="584" width="1" height="27" fill="#c0c0c0"/>
<rect x="1209" y="587" width="1" height="24" fill="#c0c0c0"/>
<rect x="1217" y="590" width="1" height="21" fill="#c0c0c0"/>
<rect x="1225" y="592" width="1" height="19" fill="#c0c0c0"/>
<rect x="1233" y="590" width="1" height="21" fill="#c0c0c0"/>
<rect x="1241" y="591" width="1" height="20" fill="#c0c0c0"/>
<rect x="1249" y="588" width="1" height="23" fill="#c0c0c0"/>
<rect x="1257" y="587" width="1" height="24" fill="#c0c0c0"/>
<rect x="1265" y="588" width="1" height="23" fill="#c0c0c0"/>
<rect x="1273" y="586" width="1" height="25" fill="#c0c0c0"/>
<rect x="1281" y="586" width="1" height="25" fill="#c0c0c0"/>
<rect x="1289" y="588" width="1" height="23" fill="#c0c0c0"/>
<rect x="1297" y="589" width="1" height="22" fill="#c0c0c0"/>
<rect x="1305" y="591" width="1" height="20" fill="#c0c0c0"/>
<rect x="1313" y="592" width="1" height="19" fill="#c0c0c0"/>
<rect x="1321" y="593" width="1" height="18" fill="#c0c0c0"/>
<rect x="1329" y="595" width="1" height="16" fill="#c0c0c0"/>
<rect x="1337" y="599" width="1" height="12" fill="#c0c0c0"/>
<rect x="1345" y="601" width="1" height="10" fill="#c0c0c0"/>
<rect x="1353" y="602" width="1" height="9" fill="#c0c0c0"/>
<rect x="1361" y="603" width="1" height="8" fill="#c0c0c0"/>
<rect x="1369" y="600" width="1" height="11" fill="#c0c0c0"/>
<rect x="1377" y="596" width="1" height="15" fill="#c0c0c0"/>
<rect x="1385" y="598" width="1" height="13" fill="#c0c0c0"/>
<rect x="1393" y="601" width="1" height="10" fill="#c0c0c0"/>
<rect x="1401" y="603" width="1" height="8" fill="#c0c0c0"/>
<rect x="1409" y="605" width="1" height="6" fill="#c0c0c0"/>
<rect x="1417" y="606" width="1" height="5" fill="#c0c0c0"/>
<rect x="1425" y="607" width="1" height="4" fill="#c0c0c0"/>
<rect x="1433" y="606" width="1" height="5" fill="#c0c0c0"/>
<rect x="1441" y="606" width="1" height="5" fill="#c0c0c0"/>
<rect x="1449" y="605" width="1" height="6" fill="#c0c0c0"/>
<rect x="1457" y="605" width="1" height="6" fill="#c0c0c0"/>
<rect x="1465" y="606" width="1" height="5" fill="#c0c0c0"/>
<rect x="1473" y="610" width="1" height="1" fill="#c0c0c0"/>
<rect x="1481" y="610" width="1" height="2" fill="#c0c0c0"/>
<rect x="1489" y="610" width="1" height="3" fill="#c0c0c0"/>
<rect x="1497" y="610" width="1" height="5" fill="#c0c0c0"/>
<rect x="1505" y="610" width="1" height="5" fill="#c0c0c0"/>
<rect x="1513" y="610" width="1" height="4" fill="#c0c0c0"/>
<rect x="1521" y="610" width="1" height="5" fill="#c0c0c0"/>
<rect x="1537" y="606" width="1" height="5" fill="#c0c0c0"/>
<rect x="1545" y="602" width="1" height="9" fill="#c0c0c0"/>
<rect x="1553" y="599" width="1" height="12" fill="#c0c0c0"/>
<rect x="1561" y="597" width="1" height="14" fill="#c0c0c0"/>
<rect x="1569" y="596" width="1" height="15" fill="#c0c0c0"/>
<rect x="1577" y="595" width="1" height="16" fill="#c0c0c0"/>
<rect x="1585" y="596" width="1" height="15" fill="#c0c0c0"/>
<rect x="1593" y="595" width="1" height="16" fill="#c0c0c0"/>
<rect x="1601" y="595" width="1" height="16" fill="#c0c0c0"/>
<rect x="1609" y="594" width="1" height="17" fill="#c0c0c0"/>
<rect x="1617" y="595" width="1" height="16" fill="#c0c0c0"/>
<rect x="1625" y="595" width="1" height="16" fill="#c0c0c0"/>
<rect x="1633" y="595" width="1" height="16" fill="#c0c0c0"/>
<rect x="1641" y="596" width="1" height="15" fill="#c0c0c0"/>
<rect x="1649" y="596" width="1" height="15" fill="#c0c0c0"/>
<rect x="1657" y="597" width="1" height="14" fill="#c0c0c0"/>
<polyline points="1.0,608.4 34.9,607.5 38.3,608.7 46.5,608.5 63.9,607.5 69.7,606.4 81.3,605.4 87.2,604.1 93.0,602.4 98.8,601.3 104.6,598.8 110.4,597.1 116.2,595.3 122.0,594.2 127.8,592.2 139.5,591.3 145.3,589.9 197.6,589.9 200.0,591.5 204.6,591.5 207.0,592.4 248.8,592.4 252.3,591.5 290.6,591.5 296.5,592.4 301.1,593.2 306.9,594.2 313.9,595.3 319.7,596.8 325.5,598.2 333.6,598.5 339.5,599.4 345.3,600.3 349.9,601.1 356.9,601.5 362.7,602.3 368.5,603.1 381.3,603.1 385.9,604.6 391.7,607.0 400.0,608.5 409.8,611.7 424.4,616.1 436.6,619.1 461.0,622.5 480.5,621.0 502.5,618.6 512.0,616.4 517.6,615.2 523.9,613.5 530.2,611.6 536.5,608.5 542.8,606.4 546.0,606.2 549.1,602.7 554.3,599.6 560.6,596.4 566.9,593.6 577.0,588.2 584.8,585.1 591.0,583.3 600.3,580.5 609.6,580.5 620.4,583.3 626.6,585.9 632.8,589.8 643.7,596.8 656.0,606.8 668.4,618.4 680.8,627.7 691.7,636.6 702.5,646.3 714.9,655.6 727.3,664.9 738.2,671.1 745.9,675.0 752.1,677.3 760.0,677.3 763.1,676.2 770.8,674.7 777.0,671.6 783.2,667.6 794.1,658.0 804.9,646.3 815.8,634.7 822.0,629.3 828.2,623.6 834.4,618.4 840.6,613.8 846.8,609.9 853.0,606.5 859.1,603.4 865.3,601.4 871.5,599.4 877.7,597.8 883.9,597.1 899.4,596.4 908.7,597.5 914.9,599.9 921.1,601.4 930.4,606.1 936.6,609.9 942.8,614.3 949.0,617.7 955.2,621.1 960.0,624.3 966.2,627.4 972.4,630.5 978.6,632.5 984.8,633.1 991.0,633.1 997.2,631.6 1003.4,629.7 1009.6,627.4 1015.8,624.3 1022.0,620.4 1028.2,617.3 1034.4,613.9 1040.6,609.9 1046.8,604.9 1053.0,601.5 1059.1,599.5 1065.3,598.0 1071.5,596.4 1077.7,593.8 1083.9,593.0 1090.1,590.7 1096.3,589.4 1102.5,587.6 1108.7,586.3 1114.9,584.5 1121.1,582.5 1127.3,579.8 1133.5,578.3 1139.7,576.3 1145.9,575.2 1152.1,573.6 1160.0,573.9 1166.2,572.4 1172.4,572.7 1186.3,573.5 1194.1,575.5 1203.4,577.8 1212.7,579.4 1222.0,581.7 1231.3,583.5 1240.6,585.1 1249.9,586.3 1256.0,587.6 1268.4,588.3 1291.7,588.3 1299.4,587.4 1311.8,587.9 1322.7,588.7 1327.3,589.4 1339.7,590.5 1345.9,592.5 1360.0,595.3 1366.2,596.4 1374.0,597.2 1386.3,598.4 1398.7,599.5 1411.1,600.6 1422.0,601.5 1445.2,602.6 1468.4,604.5 1471.5,605.4 1483.9,606.5 1494.8,608.3 1500.0,608.3 1512.4,610.3 1523.2,612.4 1537.2,612.4 1546.5,611.1 1554.2,609.9 1562.0,608.3 1568.1,606.5 1574.3,605.2 1580.5,602.6 1586.7,601.0 1592.9,599.5 1599.1,597.9 1605.3,595.9 1617.7,595.3 1624.0,594.4 1657.0,594.4" fill="none" stroke="#ff0000" stroke-width="1" stroke-dasharray="3,3"/>
<line x1="2" y1="735.5" x2="1676" y2="735.5" stroke="#c0c0c0" stroke-width="1" stroke-dasharray="3,3"/>
<line x1="2" y1="781.5" x2="1676" y2="781.5" stroke="#c0c0c0" stroke-width="1" stroke-dasharray="3,3"/>
<polyline points="1.5,767.3 9.5,766.4 17.5,763.6 25.5,760.4 33.5,763.4 41.5,749.2 49.5,747.3 57.5,749.1 65.5,750.5 73.5,746.4 81.5,748.3 89.5,748.3 97.5,744.4 105.5,744.4 113.5,743.4 121.5,744.4 129.5,742.2 137.5,743.9 145.5,748.1 153.5,749.3 161.5,747.6 169.5,745.1 177.5,749.3 185.5,750.5 193.5,752.0 201.5,752.0 209.5,743.9 217.5,737.8 225.5,735.4 233.5,735.4 241.5,757.3 249.5,744.4 257.5,748.3 265.5,751.7 273.5,751.2 281.5,758.1 289.5,759.8 297.5,763.0 305.5,759.8 313.5,754.9 321.5,754.2 329.5,750.0 337.5,750.8 345.5,754.2 353.5,757.8 361.5,761.5 369.5,764.7 377.5,763.9 385.5,768.3 393.5,785.9 401.5,765.6 409.5,766.4 417.5,760.5 425.5,760.5 433.5,759.3 441.5,756.6 449.5,765.4 457.5,765.4 465.5,766.4 473.5,760.5 481.5,762.2 489.5,758.1 497.5,748.3 505.5,748.3 513.5,746.4 521.5,748.3 529.5,744.4 537.5,736.1 545.5,739.0 553.5,738.3 561.5,737.3 569.5,736.1 577.5,741.5 585.5,740.3 593.5,742.0 601.5,766.4 609.5,766.4 617.5,773.7 625.5,776.1 633.5,780.5 641.5,779.3 649.5,777.6 657.5,777.6 665.5,785.4 673.5,771.3 681.5,774.4 689.5,785.9 697.5,789.8 705.5,786.6 713.5,783.5 721.5,788.3 729.5,781.0 737.5,765.9 745.5,763.9 753.5,762.2 761.5,758.6 769.5,758.1 777.5,756.6 785.5,749.3 793.5,747.1 801.5,745.1 809.5,746.4 817.5,752.0 825.5,752.5 833.5,754.9 841.5,757.3 849.5,752.5 857.5,749.5 865.5,748.3 873.5,745.9 881.5,750.8 889.5,757.3 897.5,766.4 905.5,771.3 913.5,771.3 921.5,774.4 929.5,779.3 937.5,776.9 945.5,765.4 953.5,768.3 961.5,765.4 969.5,765.4 977.5,766.4 985.5,747.1 993.5,749.5 1001.5,747.6 1009.5,748.3 1017.5,747.6 1025.5,744.4 1033.5,748.8 1041.5,753.2 1049.5,751.2 1057.5,755.6 1065.5,750.0 1073.5,746.4 1081.5,747.6 1089.5,740.3 1097.5,740.3 1105.5,738.6 1113.5,738.1 1121.5,737.1 1129.5,736.1 1137.5,747.6 1145.5,750.8 1153.5,747.6 1161.5,745.4 1169.5,745.1 1177.5,746.4 1185.5,747.1 1193.5,748.3 1201.5,749.6 1209.5,752.0 1217.5,756.0 1225.5,751.6 1233.5,743.2 1241.5,750.2 1249.5,742.4 1257.5,742.4 1265.5,744.1 1273.5,743.2 1281.5,744.1 1289.5,751.6 1297.5,751.0 1305.5,749.7 1313.5,750.2 1321.5,750.2 1329.5,753.6 1337.5,761.9 1345.5,761.9 1353.5,755.8 1361.5,753.8 1369.5,742.4 1377.5,739.1 1385.5,754.4 1393.5,758.6 1401.5,760.8 1409.5,759.1 1417.5,760.8 1425.5,757.2 1433.5,751.6 1441.5,755.0 1449.5,753.0 1457.5,753.0 1465.5,760.0 1473.5,773.9 1481.5,760.0 1489.5,763.6 1497.5,765.0 1505.5,761.4 1513.5,761.9 1521.5,759.1 1529.5,747.4 1537.5,743.2 1545.5,745.2 1553.5,744.1 1561.5,748.0 1569.5,749.7 1577.5,745.2 1585.5,753.0 1593.5,749.7 1601.5,749.7 1609.5,748.3 1617.5,751.6 1625.5,746.6 1633.5,753.0 1641.5,752.4 1649.5,752.2 1657.5,750.2" fill="none" stroke="#1e90ff" stroke-width="1"/>
<rect x="0" y="0" width="1677" height="1" fill="#000"/>
<rect x="0" y="558" width="1677" height="1" fill="#000"/>
<rect x="0" y="0" width="1" height="559" fill="#000"/>
<rect x="1676" y="0" width="1" height="559" fill="#000"/>
<rect x="0" y="560" width="1677" height="1" fill="#000"/>
<rect x="0" y="697" width="1677" height="1" fill="#000"/>
<rect x="0" y="560" width="1" height="138" fill="#000"/>
<rect x="1676" y="560" width="1" height="138" fill="#000"/>
<rect x="0" y="699" width="1677" height="1" fill="#000"/>
<rect x="0" y="816" width="1677" height="1" fill="#000"/>
<rect x="0" y="699" width="1" height="118" fill="#000"/>
<rect x="1676" y="699" width="1" height="118" fill="#000"/>
<rect x="0" y="837" width="1721" height="1" fill="#dadada"/>
<rect x="1677" y="27" width="2" height="1" fill="#000"/>
<rect x="1677" y="60" width="2" height="1" fill="#000"/>
<rect x="1677" y="93" width="2" height="1" fill="#000"/>
<rect x="1677" y="126" width="2" height="1" fill="#000"/>
<rect x="1677" y="159" width="2" height="1" fill="#000"/>
<rect x="1677" y="192" width="2" height="1" fill="#000"/>
<rect x="1677" y="225" width="2" height="1" fill="#000"/>
<rect x="1677" y="258" width="2" height="1" fill="#000"/>
<rect x="1677" y="291" width="2" height="1" fill="#000"/>
<rect x="1677" y="324" width="2" height="1" fill="#000"/>
<rect x="1677" y="357" width="2" height="1" fill="#000"/>
<rect x="1677" y="390" width="2" height="1" fill="#000"/>
<rect x="1677" y="423" width="2" height="1" fill="#000"/>
<rect x="1677" y="456" width="2" height="1" fill="#000"/>
<rect x="1677" y="489" width="2" height="1" fill="#000"/>
<rect x="1677" y="522" width="2" height="1" fill="#000"/>
<rect x="1677" y="555" width="2" height="1" fill="#000"/>
<rect x="1677" y="561" width="2" height="1" fill="#000"/>
<rect x="1677" y="610" width="2" height="1" fill="#000"/>
<rect x="1677" y="695" width="2" height="1" fill="#000"/>
<rect x="1677" y="701" width="2" height="1" fill="#000"/>
<rect x="1677" y="735" width="2" height="1" fill="#000"/>
<rect x="1677" y="781" width="2" height="1" fill="#000"/>
<rect x="1677" y="815" width="2" height="1" fill="#000"/>
<rect x="1" y="817" width="1" height="3" fill="#000"/>
<rect x="65" y="817" width="1" height="3" fill="#000"/>
<rect x="129" y="817" width="1" height="3" fill="#000"/>
<rect x="193" y="817" width="1" height="3" fill="#000"/>
<rect x="257" y="817" width="1" height="3" fill="#000"/>
<rect x="321" y="817" width="1" height="3" fill="#000"/>
<rect x="385" y="817" width="1" height="3" fill="#000"/>
<rect x="449" y="817" width="1" height="3" fill="#000"/>
<rect x="513" y="817" width="1" height="3" fill="#000"/>
<rect x="577" y="817" width="1" height="3" fill="#000"/>
<rect x="641" y="817" width="1" height="3" fill="#000"/>
<rect x="705" y="817" width="1" height="3" fill="#000"/>
<rect x="769" y="817" width="1" height="3" fill="#000"/>
<rect x="833" y="817" width="1" height="3" fill="#000"/>
<rect x="897" y="817" width="1" height="3" fill="#000"/>
<rect x="961" y="817" width="1" height="3" fill="#000"/>
<rect x="1025" y="817" width="1" height="3" fill="#000"/>
<rect x="1089" y="817" width="1" height="3" fill="#000"/>
<rect x="1153" y="817" width="1" height="3" fill="#000"/>
<rect x="1217" y="817" width="1" height="3" fill="#000"/>
<rect x="1281" y="817" width="1" height="3" fill="#000"/>
<rect x="1345" y="817" width="1" height="3" fill="#000"/>
<rect x="1409" y="817" width="1" height="3" fill="#000"/>
<rect x="1473" y="817" width="1" height="3" fill="#000"/>
<rect x="1537" y="817" width="1" height="3" fill="#000"/>
<rect x="1601" y="817" width="1" height="3" fill="#000"/>
</g>
<text x="1681.4" y="31" class="ax" textLength="39.30" lengthAdjust="spacingAndGlyphs" xml:space="preserve">4237.780</text><text x="1681.4" y="64" class="ax" textLength="39.30" lengthAdjust="spacingAndGlyphs" xml:space="preserve">4224.580</text><text x="1681.4" y="97" class="ax" textLength="39.30" lengthAdjust="spacingAndGlyphs" xml:space="preserve">4211.380</text><text x="1681.4" y="130" class="ax" textLength="39.30" lengthAdjust="spacingAndGlyphs" xml:space="preserve">4197.780</text><text x="1681.4" y="163" class="ax" textLength="39.30" lengthAdjust="spacingAndGlyphs" xml:space="preserve">4184.580</text><text x="1681.4" y="196" class="ax" textLength="39.30" lengthAdjust="spacingAndGlyphs" xml:space="preserve">4171.380</text><text x="1681.4" y="229" class="ax" textLength="39.30" lengthAdjust="spacingAndGlyphs" xml:space="preserve">4158.180</text><text x="1681.4" y="262" class="ax" textLength="39.30" lengthAdjust="spacingAndGlyphs" xml:space="preserve">4144.580</text><text x="1681.4" y="295" class="ax" textLength="39.30" lengthAdjust="spacingAndGlyphs" xml:space="preserve">4131.380</text><text x="1681.4" y="328" class="ax" textLength="39.30" lengthAdjust="spacingAndGlyphs" xml:space="preserve">4118.180</text><text x="1681.4" y="361" class="ax" textLength="39.30" lengthAdjust="spacingAndGlyphs" xml:space="preserve">4104.580</text><text x="1681.4" y="394" class="ax" textLength="39.30" lengthAdjust="spacingAndGlyphs" xml:space="preserve">4091.380</text><text x="1681.4" y="427" class="ax" textLength="39.30" lengthAdjust="spacingAndGlyphs" xml:space="preserve">4078.180</text><text x="1681.4" y="460" class="ax" textLength="39.30" lengthAdjust="spacingAndGlyphs" xml:space="preserve">4064.580</text><text x="1681.4" y="493" class="ax" textLength="39.30" lengthAdjust="spacingAndGlyphs" xml:space="preserve">4051.380</text><text x="1681.4" y="526" class="ax" textLength="39.30" lengthAdjust="spacingAndGlyphs" xml:space="preserve">4038.180</text><text x="1681.4" y="559" class="ax" textLength="39.30" lengthAdjust="spacingAndGlyphs" xml:space="preserve">4024.980</text><text x="1680.2" y="571.5" class="ax" textLength="33.48" lengthAdjust="spacingAndGlyphs" xml:space="preserve">20.9116</text><text x="1680.2" y="614" class="ax" textLength="18.03" lengthAdjust="spacingAndGlyphs" xml:space="preserve">0.00</text><text x="1679.8" y="694" class="ax" textLength="36.41" lengthAdjust="spacingAndGlyphs" xml:space="preserve">-37.6302</text><text x="1679.8" y="710" class="ax" textLength="15.30" lengthAdjust="spacingAndGlyphs" xml:space="preserve">100</text><text x="1678.8" y="739" class="ax" textLength="10.60" lengthAdjust="spacingAndGlyphs" xml:space="preserve">70</text><text x="1678.8" y="785" class="ax" textLength="10.60" lengthAdjust="spacingAndGlyphs" xml:space="preserve">30</text><text x="1678.8" y="813.5" class="ax" textLength="4.95" lengthAdjust="spacingAndGlyphs" xml:space="preserve">0</text><text x="0.0" y="829" class="ax" textLength="51.36" lengthAdjust="spacingAndGlyphs" xml:space="preserve">22 Apr 2021</text><text x="64.0" y="829" class="ax" textLength="54.16" lengthAdjust="spacingAndGlyphs" xml:space="preserve">25 Apr 23:00</text><text x="128.0" y="829" class="ax" textLength="54.16" lengthAdjust="spacingAndGlyphs" xml:space="preserve">27 Apr 04:00</text><text x="192.0" y="829" class="ax" textLength="54.16" lengthAdjust="spacingAndGlyphs" xml:space="preserve">28 Apr 12:00</text><text x="256.0" y="829" class="ax" textLength="54.16" lengthAdjust="spacingAndGlyphs" xml:space="preserve">29 Apr 20:00</text><text x="320.0" y="829" class="ax" textLength="51.68" lengthAdjust="spacingAndGlyphs" xml:space="preserve">3 May 00:00</text><text x="384.0" y="829" class="ax" textLength="51.68" lengthAdjust="spacingAndGlyphs" xml:space="preserve">4 May 08:00</text><text x="448.0" y="829" class="ax" textLength="51.68" lengthAdjust="spacingAndGlyphs" xml:space="preserve">5 May 16:00</text><text x="512.0" y="829" class="ax" textLength="51.68" lengthAdjust="spacingAndGlyphs" xml:space="preserve">7 May 00:00</text><text x="576.0" y="829" class="ax" textLength="56.96" lengthAdjust="spacingAndGlyphs" xml:space="preserve">10 May 04:00</text><text x="640.0" y="829" class="ax" textLength="56.96" lengthAdjust="spacingAndGlyphs" xml:space="preserve">11 May 12:00</text><text x="704.0" y="829" class="ax" textLength="56.96" lengthAdjust="spacingAndGlyphs" xml:space="preserve">12 May 20:00</text><text x="768.0" y="829" class="ax" textLength="56.96" lengthAdjust="spacingAndGlyphs" xml:space="preserve">14 May 04:00</text><text x="832.0" y="829" class="ax" textLength="56.96" lengthAdjust="spacingAndGlyphs" xml:space="preserve">17 May 08:00</text><text x="896.0" y="829" class="ax" textLength="56.96" lengthAdjust="spacingAndGlyphs" xml:space="preserve">18 May 16:00</text><text x="960.0" y="829" class="ax" textLength="56.96" lengthAdjust="spacingAndGlyphs" xml:space="preserve">20 May 00:00</text><text x="1024.0" y="829" class="ax" textLength="56.96" lengthAdjust="spacingAndGlyphs" xml:space="preserve">21 May 08:00</text><text x="1088.0" y="829" class="ax" textLength="56.96" lengthAdjust="spacingAndGlyphs" xml:space="preserve">24 May 12:00</text><text x="1152.0" y="829" class="ax" textLength="56.96" lengthAdjust="spacingAndGlyphs" xml:space="preserve">25 May 20:00</text><text x="1216.0" y="829" class="ax" textLength="56.96" lengthAdjust="spacingAndGlyphs" xml:space="preserve">27 May 04:00</text><text x="1280.0" y="829" class="ax" textLength="56.96" lengthAdjust="spacingAndGlyphs" xml:space="preserve">28 May 12:00</text><text x="1344.0" y="829" class="ax" textLength="56.96" lengthAdjust="spacingAndGlyphs" xml:space="preserve">31 May 16:00</text><text x="1408.0" y="829" class="ax" textLength="47.48" lengthAdjust="spacingAndGlyphs" xml:space="preserve">2 Jun 00:00</text><text x="1472.0" y="829" class="ax" textLength="47.48" lengthAdjust="spacingAndGlyphs" xml:space="preserve">3 Jun 08:00</text><text x="1536.0" y="829" class="ax" textLength="47.48" lengthAdjust="spacingAndGlyphs" xml:space="preserve">4 Jun 16:00</text><text x="1600.0" y="829" class="ax" textLength="47.48" lengthAdjust="spacingAndGlyphs" xml:space="preserve">7 Jun 20:00</text><text x="15.6" y="12" class="ax" textLength="213.00" lengthAdjust="spacingAndGlyphs" xml:space="preserve">SP500-,H4  4224.500 4227.250 4224.000 4227.000</text><text x="4.9" y="573.4" class="ax" textLength="128.20" lengthAdjust="spacingAndGlyphs" xml:space="preserve">MACD(12,26,9) 6.0787 6.7652</text><text x="4.9" y="712.2" class="ax" textLength="68.50" lengthAdjust="spacingAndGlyphs" xml:space="preserve">RSI(14) 56.6966</text>
<g shape-rendering="crispEdges"><rect x="1678" y="49" width="43" height="11" fill="#000"/><rect x="1678" y="90" width="43" height="11" fill="#22c522"/><rect x="1678" y="189" width="43" height="11" fill="#3a5fdc"/><rect x="1678" y="313" width="43" height="11" fill="#3a5fdc"/></g><text x="1681.4" y="58" class="bx" style="fill:#fff" textLength="39.10" lengthAdjust="spacingAndGlyphs" xml:space="preserve">4227.000</text><text x="1681.4" y="99" class="bx" style="fill:#fff" textLength="39.10" lengthAdjust="spacingAndGlyphs" xml:space="preserve">4210.000</text><text x="1681.4" y="198" class="bx" style="fill:#fff" textLength="39.10" lengthAdjust="spacingAndGlyphs" xml:space="preserve">4170.000</text><text x="1681.4" y="322" class="bx" style="fill:#fff" textLength="39.10" lengthAdjust="spacingAndGlyphs" xml:space="preserve">4120.000</text>
<path d="M4 7 L11 7 L7.5 10.5 Z" fill="#000"/>

<text x="1227.5" y="431.6" class="cn">多空转折点4210</text>
</svg></body></html>
